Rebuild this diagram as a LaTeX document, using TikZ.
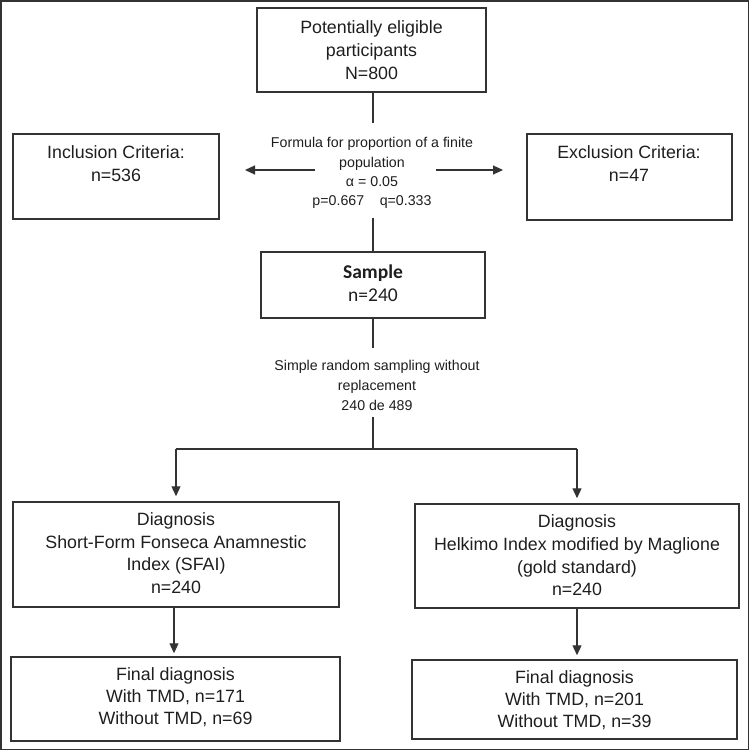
\documentclass[tikz,border=0pt]{standalone}
\usepackage{fontspec}
\setmainfont{Liberation Sans}
\newfontfamily\carl{Carlito}
\usetikzlibrary{arrows.meta}
\definecolor{linec}{HTML}{333333}
\definecolor{textc}{HTML}{1E1E1E}
\tikzset{
  boxnode/.style={draw=linec, line width=1.5pt, rectangle, inner sep=0pt},
  maintext/.style={text=textc, align=center, inner sep=0pt, font=\fontsize{17.8}{23}\selectfont},
  smalltext/.style={text=textc, align=center, inner sep=0pt, font=\fontsize{14.2}{19.3}\selectfont},
  conn/.style={draw=linec, line width=1.2pt},
  arr/.style={conn, -{Triangle[length=10pt,width=9pt]}}
}
\begin{document}
\begin{tikzpicture}[x=1pt,y=-1pt]
\useasboundingbox (0,0) rectangle (750,751);
\draw[draw=linec, line width=1.5pt] (1,1) rectangle (748.5,749.5);

% top box
\node[boxnode, minimum width=229pt, minimum height=84pt] (top) at (371.5,50) {};
\node[maintext] (toptext) at (371.5,50.5) {Potentially eligible\\participants\\N=800};

% inclusion / exclusion
\node[boxnode, minimum width=206pt, minimum height=85pt] (incl) at (116,176.5) {};
\node[maintext] (incltext) at (116,163.5) {Inclusion Criteria:\\n=536};
\node[boxnode, minimum width=205pt, minimum height=86pt] (excl) at (629.5,177) {};
\node[maintext] (excltext) at (629,163.5) {Exclusion Criteria:\\n=47};

% formula text
\node[smalltext] (formula) at (372,173) {Formula for proportion of a finite\\population\\α = 0.05\\p=0.667\hspace{1.1em}q=0.333};
\coordinate (fA) at (373,123);
\coordinate (fB) at (373,218);
\coordinate (lA) at (315,170);
\coordinate (lB) at (245,170);
\coordinate (rA) at (436,170);
\coordinate (rB) at (503,170);

% sample
\node[boxnode, minimum width=224pt, minimum height=66pt] (sample) at (373,285) {};
\node[text=textc, align=center, inner sep=0pt, font=\carl\fontsize{19.5}{23}\selectfont] (sampletext) at (373,283.5) {\textbf{Sample}\\n=240};

% sampling text
\node[smalltext, font=\fontsize{14.2}{20}\selectfont] (samp) at (377,385) {Simple random sampling without\\replacement\\240 de 489};
\coordinate (sA) at (373,348);
\coordinate (sB) at (373,417);
\coordinate (hM) at (373,449);
\coordinate (hL) at (176,449);
\coordinate (hR) at (577,449);

% diagnosis boxes
\node[boxnode, minimum width=326pt, minimum height=105pt] (dl) at (176,554.5) {};
\node[maintext, font=\fontsize{17.8}{22.7}\selectfont] (dltext) at (176,553) {Diagnosis\\Short-Form Fonseca Anamnestic\\Index (SFAI)\\n=240};
\node[boxnode, minimum width=324pt, minimum height=104pt] (dr) at (577,556) {};
\node[maintext, font=\fontsize{17.8}{22.7}\selectfont] (drtext) at (577,555.5) {Diagnosis\\Helkimo Index modified by Maglione\\(gold standard)\\n=240};

% final boxes
\node[boxnode, minimum width=329pt, minimum height=84pt] (fl) at (175.5,699) {};
\node[maintext, font=\fontsize{17.8}{22}\selectfont] (fltext) at (175.5,697) {Final diagnosis\\With TMD, n=171\\Without TMD, n=69};
\node[boxnode, minimum width=325pt, minimum height=79pt] (fr) at (574.5,699.5) {};
\node[maintext, font=\fontsize{17.8}{22}\selectfont] (frtext) at (574.5,700) {Final diagnosis\\With TMD, n=201\\Without TMD, n=39};

% connectors
\draw[conn] (top.south -| fA) -- (fA);
\draw[arr] (lA) -- (lB);
\draw[arr] (rA) -- (rB);
\draw[conn] (fB) -- (sample.north -| fB);
\draw[conn] (sample.south -| sA) -- (sA);
\draw[conn] (sB) -- (hM);
\draw[conn] (hL) -- (hR);
\draw[arr, shorten >=5pt] (hL) -- (dl.north -| hL);
\draw[arr, shorten >=5pt] (hR) -- (dr.north -| hR);
\draw[arr, shorten >=3pt] ([xshift=-2pt]dl.south) -- ([xshift=-2pt]dl.south |- fl.north);
\draw[arr, shorten >=4pt] (dr.south) -- (dr.south |- fr.north);
\end{tikzpicture}
\end{document}
